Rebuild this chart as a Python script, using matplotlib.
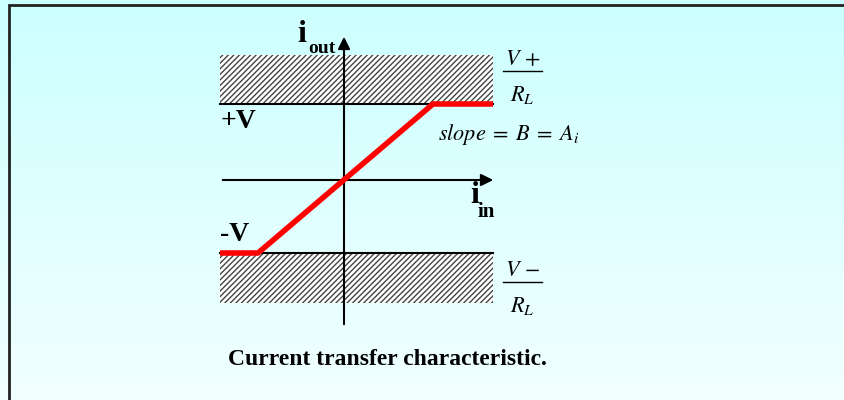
import matplotlib.pyplot as plt
import numpy as np
from matplotlib.patches import Rectangle

plt.rcParams['mathtext.fontset'] = 'stix'
plt.rcParams['hatch.linewidth'] = 1.0
plt.rcParams['hatch.color'] = '#333333'

# transfer characteristic (origin at axes crossing)
i_in = [-124, -86, 89, 149]
i_out = [-73, -73, 76, 76]

# saturation bands (bottom, top)
band_hi = [76, 125]
band_lo = [-123, -73]
x_span = [-124, 149]

fig = plt.figure(figsize=(8.44, 4), dpi=100)

# gradient background
bg = fig.add_axes([0, 0, 1, 1])
grad = np.linspace(0, 1, 256).reshape(-1, 1)
top = np.array([204, 255, 255]) / 255
bot = np.array([242, 255, 255]) / 255
img = top[None, None, :] * (1 - grad[:, :, None]) + bot[None, None, :] * grad[:, :, None]
bg.imshow(img, aspect='auto', extent=[0, 1, 0, 1])
bg.set_axis_off()

ax = fig.add_axes([0, 0, 1, 1], facecolor='none')
ax.set_xlim(-344, 500)
ax.set_ylim(-220, 180)
ax.set_axis_off()

# outer frame
ax.add_patch(Rectangle((-335, -240), 900, 415, fill=False, lw=2, ec='#222222'))

# hatched saturation regions
for lo, hi in (band_hi, band_lo):
    ax.add_patch(Rectangle((x_span[0], lo), x_span[1] - x_span[0], hi - lo,
                           facecolor='white', edgecolor='#444444', lw=0, hatch='//////'))
ax.plot(x_span, [band_hi[0]] * 2, color='black', lw=1.5)
ax.plot(x_span, [band_lo[1]] * 2, color='black', lw=1.5)

# axes with arrows
ax.annotate('', xy=(152, 0), xytext=(-124, 0),
            arrowprops=dict(arrowstyle='-|>', color='black', lw=1.5, mutation_scale=18))
ax.annotate('', xy=(0, 146), xytext=(0, -147),
            arrowprops=dict(arrowstyle='-|>', color='black', lw=1.5, mutation_scale=18))

# curve
ax.plot(i_in, i_out, color='#ff0000', lw=4, solid_capstyle='butt', zorder=5)

bold = dict(family='Liberation Serif', weight='bold', color='black')
ax.text(-47, 138, 'i', fontsize=23, ha='left', va='baseline', **bold)
ax.text(-36, 127, 'out', fontsize=14, ha='left', va='baseline', **bold)
ax.text(126, -23, 'i', fontsize=23, ha='left', va='baseline', **bold)
ax.text(134, -37, 'in', fontsize=15, ha='left', va='baseline', **bold)
ax.text(-124, 52, '+V', fontsize=20, ha='left', va='baseline', **bold)
ax.text(-124, -61, '-V', fontsize=20, ha='left', va='baseline', **bold)

# fractions
for yc, num in ((109, r'$V\,+$'), (-102, r'$V\,-$')):
    ax.text(179, yc + 6, num, fontsize=16, ha='center', va='baseline')
    ax.plot([159, 198], [yc, yc], color='black', lw=1)
    ax.text(178, yc - 30, r'$R_L$', fontsize=16, ha='center', va='baseline')

ax.text(94, 40, r'$slope\;=\;B\;=\;A_i$', fontsize=16, ha='left', va='baseline')

ax.text(43, -185, 'Current transfer characteristic.', fontsize=17,
        ha='center', va='baseline', **bold)

fig.savefig('out.png', dpi=100)
